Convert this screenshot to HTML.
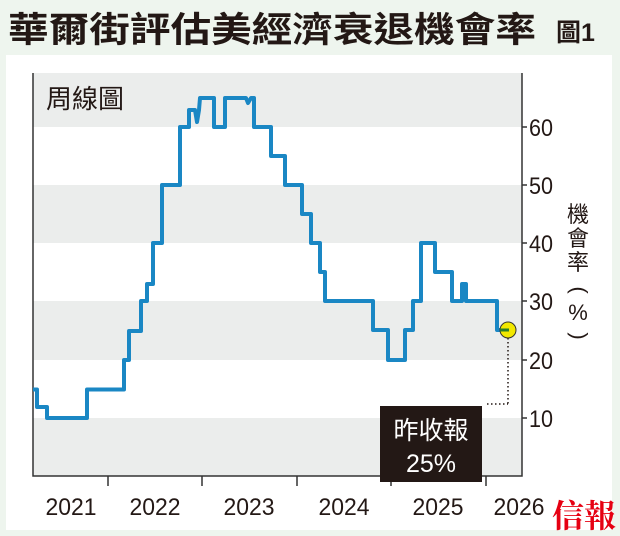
<!DOCTYPE html>
<html><head><meta charset="utf-8"><style>
body{margin:0;width:620px;height:536px;background:#eef5ee;overflow:hidden;font-family:"Liberation Sans","Noto Sans CJK TC",sans-serif}
</style></head><body>
<svg width="620" height="536" xmlns="http://www.w3.org/2000/svg" style="position:absolute;left:0;top:0">
<text x="8" y="42" font-size="35" font-weight="bold" fill="#231815" textLength="528" lengthAdjust="spacingAndGlyphs" font-family="Liberation Sans, Noto Sans CJK TC, sans-serif">華爾街評估美經濟衰退機會率</text>
<text x="556" y="41" font-size="25" font-weight="bold" fill="#231815" font-family="Liberation Sans, Noto Sans CJK TC, sans-serif">圖1</text>
<rect x="6" y="55" width="606" height="475" fill="#fff"/>
<rect x="33" y="73" width="489" height="54" fill="#ebedec"/>
<rect x="33" y="185" width="489" height="58" fill="#ebedec"/>
<rect x="33" y="301" width="489" height="59" fill="#ebedec"/>
<rect x="33" y="418" width="489" height="58" fill="#ebedec"/>
<path d="M33 73V476H522V73" fill="none" stroke="#333" stroke-width="1.5"/>
<g stroke="#333" stroke-width="1.5">
<line x1="108" y1="476" x2="108" y2="486"/><line x1="202" y1="476" x2="202" y2="486"/><line x1="297" y1="476" x2="297" y2="486"/><line x1="391" y1="476" x2="391" y2="486"/><line x1="486" y1="476" x2="486" y2="486"/>
<line x1="522" y1="127" x2="527" y2="127"/><line x1="522" y1="185" x2="527" y2="185"/><line x1="522" y1="243" x2="527" y2="243"/><line x1="522" y1="301" x2="527" y2="301"/><line x1="522" y1="360" x2="527" y2="360"/><line x1="522" y1="418" x2="527" y2="418"/>
</g>
<g font-size="24" fill="#231815">
<text x="529" y="136" textLength="24" lengthAdjust="spacingAndGlyphs">60</text><text x="529" y="194" textLength="24" lengthAdjust="spacingAndGlyphs">50</text><text x="529" y="252" textLength="24" lengthAdjust="spacingAndGlyphs">40</text><text x="529" y="310" textLength="24" lengthAdjust="spacingAndGlyphs">30</text><text x="529" y="369" textLength="24" lengthAdjust="spacingAndGlyphs">20</text><text x="529" y="427" textLength="24" lengthAdjust="spacingAndGlyphs">10</text>
</g>
<g font-size="24" fill="#231815" text-anchor="middle">
<text x="71" y="515" textLength="51" lengthAdjust="spacingAndGlyphs">2021</text><text x="155" y="515" textLength="51" lengthAdjust="spacingAndGlyphs">2022</text><text x="249" y="515" textLength="51" lengthAdjust="spacingAndGlyphs">2023</text><text x="344" y="515" textLength="51" lengthAdjust="spacingAndGlyphs">2024</text><text x="438" y="515" textLength="51" lengthAdjust="spacingAndGlyphs">2025</text><text x="519" y="515" textLength="51" lengthAdjust="spacingAndGlyphs">2026</text>
</g>
<g font-size="22" fill="#231815" text-anchor="middle" font-family="Liberation Sans, Noto Sans CJK TC, sans-serif">
<text x="578" y="222">機</text><text x="578" y="246">會</text><text x="578" y="270">率</text>
<text x="578" y="296" transform="rotate(90 578 290)">(</text><text x="578" y="320">%</text><text x="578" y="342" transform="rotate(90 578 336)">)</text>
</g>
<text x="46" y="108" font-size="26" fill="#231815" font-family="Liberation Sans, Noto Sans CJK TC, sans-serif">周線圖</text>
<text x="552" y="527" font-size="32" font-weight="bold" fill="#e60012" font-family="Noto Serif CJK SC, serif">信報</text>
<polyline fill="none" stroke="#1a87c4" stroke-width="4" stroke-linejoin="round" points="33,389.5 37,389.5 37,407 47,407 47,418 87,418 87,389.5 124,389.5 124,360 129,360 129,331 141,331 141,301 147,301 147,284 153,284 153,243 162,243 162,185 180,185 180,127 189,127 189,110 195,110 197,122 199,110 200,98 214,98 214,127 225,127 225,98 246,98 248,103 251,98 254,98 254,127 271,127 271,156 285,156 285,185 302,185 302,214 311,214 311,243 320,243 320,272 325,272 325,301 373,301 373,330 388,330 388,360 405,360 405,330 413,330 413,301 421,301 421,243 435,243 435,272 452,272 452,301 462,301 462,284 466,284 466,301 497,301 497,330 508,330"/>
<path d="M508 338V404M487 404H508" stroke="#231815" stroke-width="1.5" stroke-dasharray="1.5 2.5"/>
<circle cx="508" cy="330" r="8" fill="#f2e800" stroke="#333" stroke-width="1"/>
<path d="M500 330H509" stroke="#2a7d2a" stroke-width="3"/>
<rect x="380" y="406" width="102" height="76" fill="#231815"/>
<g fill="#fff" font-size="25" text-anchor="middle" font-family="Liberation Sans, Noto Sans CJK TC, sans-serif">
<text x="431" y="439">昨收報</text><text x="431" y="472">25%</text></g>
</svg>
</body></html>
